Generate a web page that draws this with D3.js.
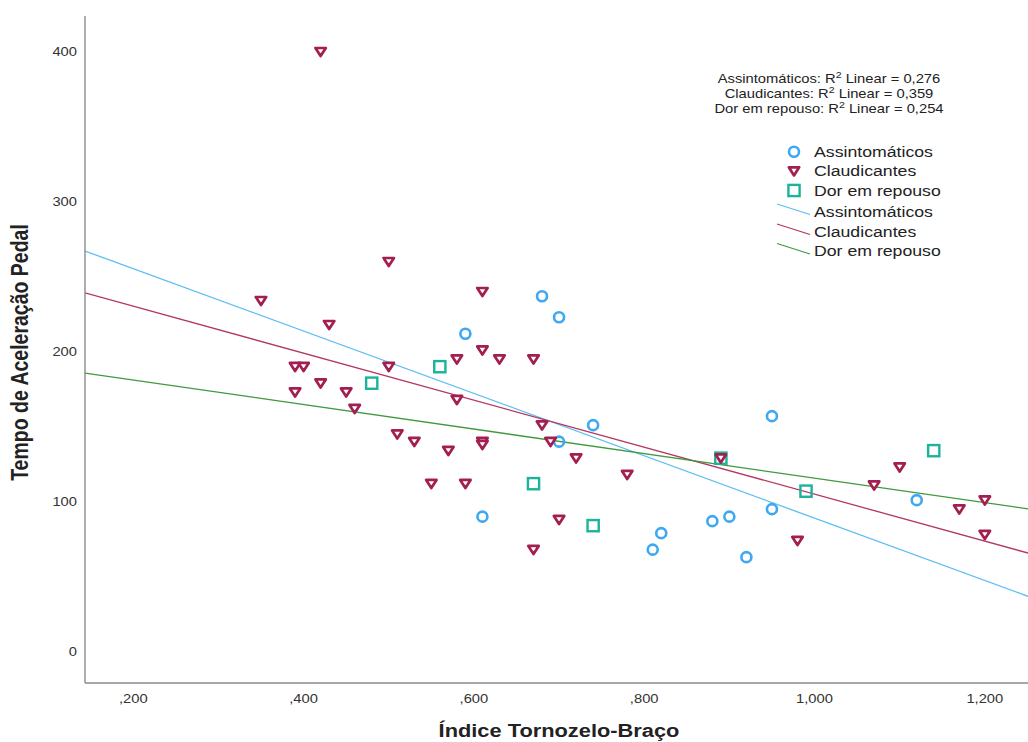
<!DOCTYPE html>
<html>
<head>
<meta charset="utf-8">
<script src="https://cdn.jsdelivr.net/npm/d3@7"></script>
<style>
  body { margin: 0; background: #fff; }
  svg { display: block; font-family: 'Liberation Sans', Arial, sans-serif; }
</style>
</head>
<body>
<svg id="chart" width="1028" height="742"></svg>
<script>
// groups
const groups = ['Assintomáticos', 'Claudicantes', 'Dor em repouso']
const r2Values = ['0,276', '0,359', '0,254']

// Assintomáticos (circles)
const assintX = [0.68, 0.70, 0.59, 0.74, 0.70, 0.61, 0.95, 0.95, 0.88, 0.90, 0.82, 0.81, 0.92, 1.12]
const assintY = [237, 223, 212, 151, 140, 90, 157, 95, 87, 90, 79, 68, 63, 101]

// Claudicantes (triangles)
const claudX = [0.42, 0.35, 0.50, 0.43, 0.61, 0.39, 0.40, 0.42, 0.39, 0.45, 0.46, 0.50, 0.58, 0.61,
  0.63, 0.67, 0.58, 0.51, 0.53, 0.57, 0.61, 0.61, 0.68, 0.69, 0.72, 0.78, 0.55, 0.59, 0.70, 0.67,
  0.89, 0.98, 1.07, 1.10, 1.17, 1.20, 1.20]
const claudY = [400, 234, 260, 218, 240, 190, 190, 179, 173, 173, 162, 190, 195, 201,
  195, 195, 168, 145, 140, 134, 140, 138, 151, 140, 129, 118, 112, 112, 88, 68,
  129, 74, 111, 123, 95, 101, 78]

// Dor em repouso (squares)
const dorX = [0.56, 0.48, 0.67, 0.74, 0.89, 0.99, 1.14]
const dorY = [190, 179, 112, 84, 129, 107, 134]

const xTicks = [0.2, 0.4, 0.6, 0.8, 1.0, 1.2]
const yTicks = [0, 100, 200, 300, 400]

const colors = { pts: ['#3ea8f2', '#a21f50', '#1bb399'], lines: ['#5cbdf6', '#b33761', '#3f993f'] }
const stretch = 1.18 // text in the reference is horizontally widened

const svg = d3.select('#chart')
const x = d3.scaleLinear().domain([0.1433, 1.2507]).range([85, 1028])
const y = d3.scaleLinear().domain([-20.7, 423.8]).range([682.7, 16])

const series = [
  { name: groups[0], xs: assintX, ys: assintY },
  { name: groups[1], xs: claudX, ys: claudY },
  { name: groups[2], xs: dorX, ys: dorY }
]

function addText (g, tx, ty, str, size, opts = {}) {
  return g.append('text')
    .attr('transform', `translate(${tx},${ty}) scale(${stretch},1)` + (opts.rotate ? ` rotate(${opts.rotate})` : ''))
    .attr('text-anchor', opts.anchor || 'start')
    .attr('font-size', size)
    .attr('font-weight', opts.bold ? 'bold' : null)
    .attr('fill', opts.fill || '#222')
    .text(str)
}

function fit (xs, ys) {
  const mx = d3.mean(xs)
  const my = d3.mean(ys)
  let sxy = 0
  let sxx = 0
  xs.forEach((v, i) => { sxy += (v - mx) * (ys[i] - my); sxx += (v - mx) * (v - mx) })
  const b = sxy / sxx
  return v => my + b * (v - mx)
}

// clip for the plot area
svg.append('clipPath').attr('id', 'plot')
  .append('rect').attr('x', 85).attr('y', 16).attr('width', 943).attr('height', 667)

// regression lines
const lineG = svg.append('g').attr('clip-path', 'url(#plot)')
series.forEach((s, i) => {
  const f = fit(s.xs, s.ys)
  const [x0, x1] = x.domain()
  lineG.append('line')
    .attr('x1', x(x0)).attr('y1', y(f(x0)))
    .attr('x2', x(x1)).attr('y2', y(f(x1)))
    .attr('stroke', colors.lines[i])
    .attr('stroke-width', 1.3)
})

// markers
const tri = 'M-5.2,-3.7L5.2,-3.7L0,4.4Z'
function marker (g, kind, cx, cy) {
  if (kind === 0) {
    g.append('circle').attr('cx', cx).attr('cy', cy).attr('r', 5)
      .attr('fill', 'none').attr('stroke', colors.pts[0]).attr('stroke-width', 2.6)
  } else if (kind === 1) {
    g.append('path').attr('d', tri).attr('transform', `translate(${cx},${cy})`)
      .attr('fill', '#fff').attr('stroke', colors.pts[1]).attr('stroke-width', 2.7)
      .attr('stroke-linejoin', 'round')
  } else {
    g.append('rect').attr('x', cx - 5.6).attr('y', cy - 5.6).attr('width', 11.2).attr('height', 11.2)
      .attr('fill', 'none').attr('stroke', colors.pts[2]).attr('stroke-width', 2.4)
  }
}

const ptsG = svg.append('g')
// squares first so triangles can sit inside them
;[2, 0, 1].forEach(k => {
  series[k].xs.forEach((v, j) => marker(ptsG, k, x(v), y(series[k].ys[j])))
})

// axes (lines only, no tick marks)
const axisG = svg.append('g')
axisG.append('line').attr('x1', 85).attr('x2', 85).attr('y1', 16).attr('y2', 683)
  .attr('stroke', '#8a8a8a').attr('stroke-width', 1.4)
axisG.append('line').attr('x1', 85).attr('x2', 1028).attr('y1', 683).attr('y2', 683)
  .attr('stroke', '#8a8a8a').attr('stroke-width', 1.4)

const fmtX = v => {
  const s = d3.format('.3f')(v).replace('.', ',')
  return v < 1 ? s.slice(1) : s
}
yTicks.forEach(t => addText(axisG, 77, y(t) + 4.5, String(t), 12.5, { anchor: 'end', fill: '#333' }))
xTicks.forEach(t => addText(axisG, x(t), 702.5, fmtX(t), 12.5, { anchor: 'middle', fill: '#333' }))

// axis titles
addText(svg, 559, 737, 'Índice Tornozelo-Braço', 18.5, { anchor: 'middle', bold: true })
addText(svg, 28, 352.5, 'Tempo de Aceleração Pedal', 19.5, { anchor: 'middle', bold: true, rotate: -90 })

// R² notes
const noteG = svg.append('g')
groups.forEach((g, i) => {
  const t = noteG.append('text')
    .attr('transform', `translate(829,${82.5 + i * 15.2}) scale(${stretch},1)`)
    .attr('text-anchor', 'middle')
    .attr('font-size', 12.5)
    .attr('fill', '#222')
  t.append('tspan').text(g + ': R')
  t.append('tspan').attr('font-size', 9).attr('dy', -5).text('2')
  t.append('tspan').attr('dy', 5).text(' Linear = ' + r2Values[i])
})

// legend
const legG = svg.append('g')
const legY = [151.7, 171, 190.5, 211.5, 231.5, 251]
groups.forEach((g, i) => {
  marker(legG, i, 794, legY[i])
  addText(legG, 814, legY[i] + 5.3, g, 15)
})
groups.forEach((g, i) => {
  const cy = legY[i + 3]
  legG.append('line').attr('x1', 777).attr('y1', cy - 7.5).attr('x2', 810).attr('y2', cy + 3)
    .attr('stroke', colors.lines[i]).attr('stroke-width', 1.3)
  addText(legG, 814, cy + 5.3, g, 15)
})
</script>
</body>
</html>
